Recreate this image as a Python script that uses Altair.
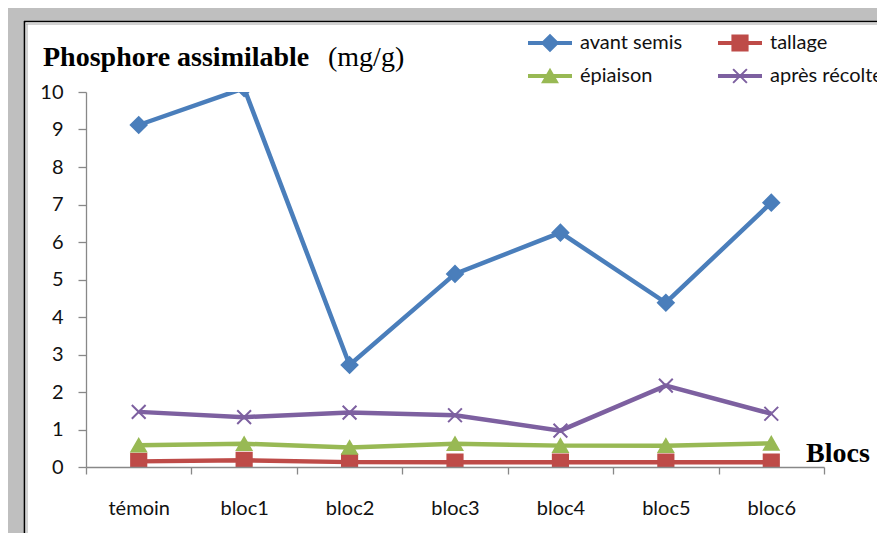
import altair as alt
import pandas as pd

categories = ["témoin", "bloc1", "bloc2", "bloc3", "bloc4", "bloc5", "bloc6"]
series_names = ["avant semis", "tallage", "épiaison", "après récolte"]
avant_semis = [9.12, 10.1, 2.72, 5.15, 6.25, 4.38, 7.05]
tallage = [0.15, 0.18, 0.13, 0.13, 0.13, 0.13, 0.13]
epiaison = [0.58, 0.62, 0.52, 0.62, 0.57, 0.57, 0.63]
apres_recolte = [1.47, 1.33, 1.45, 1.38, 0.97, 2.17, 1.42]
y_ticks = list(range(0, 11))

colors = ["#4A7EBB", "#BE4B48", "#98B954", "#7D60A0"]
shapes = ["diamond", "square", "triangle-up", "M-1,-1L1,1M-1,1L1,-1"]

rows = []
for name, vals in zip(series_names, [avant_semis, tallage, epiaison, apres_recolte]):
    for c, v in zip(categories, vals):
        rows.append({"bloc": c, "serie": name, "valeur": v})
df = pd.DataFrame(rows)
legend_df = pd.DataFrame({"serie": series_names, "idx": list(range(len(series_names)))})

color_scale = alt.Scale(domain=series_names, range=colors)
shape_scale = alt.Scale(domain=series_names, range=shapes)
size_scale = alt.Scale(domain=series_names, range=[250, 190, 240, 190])

LABEL_FONT = "Lato"
SERIF = "Liberation Serif"

one = alt.Data(values=[{"a": 1}])

def box(x, x2, y, y2, color):
    return alt.Chart(one).mark_rect(color=color, clip=False).encode(
        x=alt.value(x), x2=alt.value(x2), y=alt.value(y), y2=alt.value(y2))

def hrule(x, x2, y, color, w):
    return alt.Chart(one).mark_rule(color=color, strokeWidth=w, clip=False).encode(
        x=alt.value(x), x2=alt.value(x2), y=alt.value(y))

def vrule(x, y, y2, color, w):
    return alt.Chart(one).mark_rule(color=color, strokeWidth=w, clip=False).encode(
        x=alt.value(x), y=alt.value(y), y2=alt.value(y2))

frame = [
    box(-78, 794, -86, 443, "#BFBFBF"),
    box(-62, 820, -71, 470, "white"),
    hrule(-62, 820, -70.5, "#000000", 1.6),
    vrule(-61.5, -71, 470, "#000000", 1.6),
    hrule(-60, 820, -68, "#A6A6A6", 1),
    vrule(-59, -68, 470, "#A6A6A6", 1),
]

x_enc = alt.X("bloc:N", sort=categories,
              scale=alt.Scale(type="band", domain=categories, paddingInner=0, paddingOuter=0),
              bandPosition=0.5,
              axis=alt.Axis(title=None, tickBand="extent", domainColor="#888888", tickColor="#888888",
                            tickSize=7, labelFont=LABEL_FONT, labelFontSize=20, labelColor="#111111",
                            labelPadding=24, labelAngle=0, zindex=1, domainWidth=1.3, tickWidth=1.3))
y_enc = alt.Y("valeur:Q", scale=alt.Scale(domain=[0, 10], nice=False),
              axis=alt.Axis(title=None, values=y_ticks, grid=False, domainColor="#888888",
                            tickColor="#888888", tickSize=8, labelFont=LABEL_FONT, labelFontSize=20,
                            labelColor="#111111", labelPadding=15, zindex=1, domainWidth=1.3, tickWidth=1.3))

lines = alt.Chart(df).mark_line(strokeWidth=4.5, clip=True).encode(
    x=x_enc, y=y_enc,
    color=alt.Color("serie:N", scale=color_scale, legend=None),
    order=alt.Order("bloc_order:Q"),
).transform_calculate(bloc_order="indexof(" + str(categories) + ", datum.bloc)")

points = alt.Chart(df).mark_point(filled=True, opacity=1, strokeWidth=2, clip=True).encode(
    x=x_enc, y=y_enc,
    color=alt.Color("serie:N", scale=color_scale, legend=None),
    stroke=alt.Stroke("serie:N", scale=color_scale, legend=None),
    shape=alt.Shape("serie:N", scale=shape_scale, legend=None),
    size=alt.Size("serie:N", scale=size_scale, legend=None),
)

leg_base = alt.Chart(legend_df).transform_calculate(
    lx="442 + (datum.idx % 2) * 190",
    lx2="486 + (datum.idx % 2) * 190",
    mx="464 + (datum.idx % 2) * 190",
    tx="494 + (datum.idx % 2) * 190",
    ly="-49 + floor(datum.idx / 2) * 33",
)
leg_lines = leg_base.mark_rule(strokeWidth=4, clip=False).encode(
    x=alt.X("lx:Q", scale=None), x2="lx2:Q", y=alt.Y("ly:Q", scale=None),
    color=alt.Color("serie:N", scale=color_scale, legend=None))
leg_pts = leg_base.mark_point(filled=True, opacity=1, strokeWidth=2, clip=False).encode(
    x=alt.X("mx:Q", scale=None), y=alt.Y("ly:Q", scale=None),
    color=alt.Color("serie:N", scale=color_scale, legend=None),
    stroke=alt.Stroke("serie:N", scale=color_scale, legend=None),
    shape=alt.Shape("serie:N", scale=shape_scale, legend=None),
    size=alt.Size("serie:N", scale=size_scale, legend=None))
leg_text = leg_base.mark_text(align="left", baseline="middle", font=LABEL_FONT, fontSize=20,
                              color="#111111", clip=False).encode(
    x=alt.X("tx:Q", scale=None), y=alt.Y("ly:Q", scale=None), text="serie:N")

title1 = alt.Chart(one).mark_text(text="Phosphore assimilable", font=SERIF, fontSize=28,
                                  fontWeight="bold", align="left", baseline="alphabetic",
                                  color="#000000", clip=False).encode(
    x=alt.value(-43), y=alt.value(-26))
title2 = alt.Chart(one).mark_text(text="(mg/g)", font=SERIF, fontSize=28, align="left",
                                  baseline="alphabetic", color="#000000", clip=False).encode(
    x=alt.value(242), y=alt.value(-26))
blocs = alt.Chart(one).mark_text(text="Blocs", font=SERIF, fontSize=28, fontWeight="bold",
                                 align="left", baseline="alphabetic", color="#000000",
                                 clip=False).encode(
    x=alt.value(720), y=alt.value(370))

chart = alt.layer(*frame, lines, points, leg_lines, leg_pts, leg_text, title1, title2, blocs).properties(
    width=738, height=375,
    autosize=alt.AutoSizeParams(type="none"),
    padding={"left": 78, "top": 84, "right": 53, "bottom": 66},
).configure_view(stroke=None).configure(background="white")

chart.save("out.html", embed_options={"renderer": "svg", "actions": False})
